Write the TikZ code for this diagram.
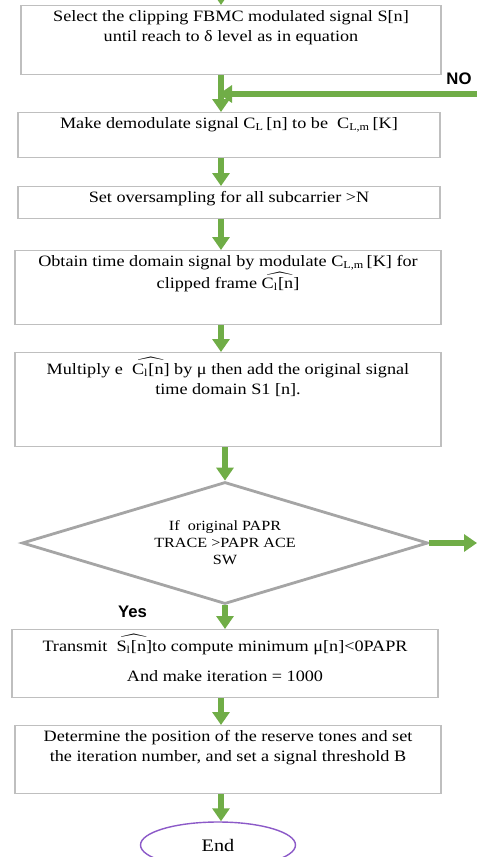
\documentclass[tikz,border=0pt]{standalone}
\usepackage{fontspec}
\setmainfont[FakeStretch=1.15]{Liberation Serif}
\newfontfamily\tagfont{Liberation Sans}
\usepackage{tikz}
\usetikzlibrary{positioning}
\usetikzlibrary{arrows.meta}
\usetikzlibrary{shapes.geometric}
\definecolor{flowgreen}{RGB}{112,173,71}
\definecolor{boxgray}{RGB}{191,191,191}
\definecolor{diagray}{RGB}{165,165,165}
\definecolor{endpurple}{RGB}{140,90,200}
\tikzstyle{every stepbox} = [font=\fontsize{9}{11.3}\selectfont]
\tikzstyle{stepbox} = [draw=boxgray, line width=0.8pt, rectangle, anchor=north, inner xsep=0pt, inner ysep=0.1cm, every stepbox]
\tikzstyle{flow} = [draw=flowgreen, line width=3pt, -{Triangle[width=0.34cm,length=0.26cm]}]
\tikzstyle{tag} = [font=\tagfont\bfseries\fontsize{9.5}{11}\selectfont]
\newcommand{\steptext}[3]{\parbox[t][#2][t]{#1}{\centering #3}}

\begin{document}
\begin{tikzpicture}
        \useasboundingbox (0,0) rectangle (9.54,-17.14);
        \tikzstyle{decision} = [diamond, shape aspect=3.33, draw=diagray, line width=1.6pt, minimum width=8.12cm, minimum height=2.44cm, inner sep=0pt, align=center, font=\fontsize{8}{9.6}\selectfont]
        \tikzstyle{terminal} = [ellipse, draw=endpurple, line width=0.8pt, minimum width=3.1cm, minimum height=0.92cm, inner sep=0pt, font=\fontsize{10}{12}\selectfont]

        \coordinate (axis) at (4.42,0);
        \coordinate (entry) at (4.42,0.4);

        \node[stepbox] (select) at (4.62,-0.10) {\steptext{8.4cm}{1.18cm}{Select the clipping FBMC modulated signal S[n]\\until reach to δ level as in equation}};
        \node[stepbox] (demod) at (4.58,-2.24) {\steptext{8.44cm}{0.70cm}{Make demodulate signal C\textsubscript{L}\,[n] to be~ C\textsubscript{L,m}\,[K]}};
        \node[stepbox] (oversamp) at (4.58,-3.72) {\steptext{8.44cm}{0.44cm}{Set oversampling for all subcarrier >N}};
        \node[stepbox] (timedom) at (4.56,-5.00) {\steptext{8.52cm}{1.28cm}{Obtain time domain signal by modulate C\textsubscript{L,m}\,[K] for\\clipped frame $\widehat{\mbox{C\textsubscript{l}[n]}}$}};
        \node[stepbox] (multiply) at (4.56,-7.04) {\steptext{8.52cm}{1.68cm}{Multiply e~ $\widehat{\mbox{C\textsubscript{l}[n]}}$ by μ then add the original signal\\time domain S1 [n].}};

        \node[decision] (test) at (4.5,-10.86) {If~ original PAPR\\TRACE >PAPR ACE\\SW};

        \node[stepbox] (transmit) at (4.50,-12.58) {\steptext{8.52cm}{1.16cm}{Transmit~ $\widehat{\mbox{S\textsubscript{l}[n]}}$to compute minimum μ[n]<0PAPR\\[0.2cm]And make iteration = 1000}};
        \node[stepbox] (reserve) at (4.56,-14.50) {\steptext{8.52cm}{1.16cm}{Determine the position of the reserve tones and set\\the iteration number, and set a signal threshold B}};

        \node[terminal] (stop) at (4.36,-16.9) {End};

        \node[tag] (no) at (9.18,-1.58) {NO};
        \node[tag] (yes) at (2.65,-12.24) {Yes};

        % main flow
        \draw[flow] (entry) -- (select.north -| axis);
        \draw[flow] (select.south -| axis) -- (demod.north -| axis);
        \draw[flow] (demod.south -| axis) -- (oversamp.north -| axis);
        \draw[flow] (oversamp.south -| axis) -- (timedom.north -| axis);
        \draw[flow] (timedom.south -| axis) -- (multiply.north -| axis);
        \draw[flow] (multiply.south -| test.north) -- (test.north);
        \draw[flow] (test.south) -- (transmit.north -| test.south);
        \draw[flow] (transmit.south -| axis) -- (reserve.north -| axis);
        \draw[flow] (reserve.south -| axis) -- (stop.north -| axis);

        % loop back and exit
        \coordinate (loop) at (9.8,-1.88);
        \coordinate (exit) at (9.54,-10.86);
        \draw[flow, shorten >=-0.04cm] (loop) -- (loop -| axis);
        \draw[flow] (test.east) -- (exit);
\end{tikzpicture}
\end{document}
